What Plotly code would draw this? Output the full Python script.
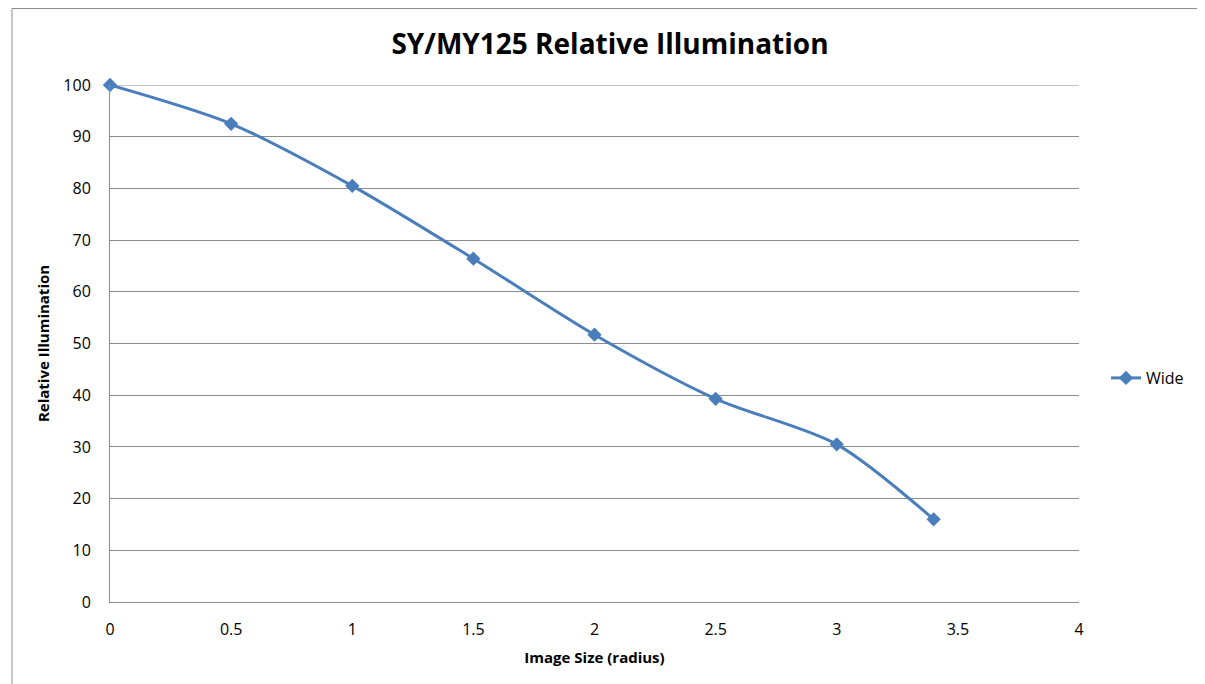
import plotly.graph_objects as go

x_vals = [0, 0.5, 1, 1.5, 2, 2.5, 3, 3.4]
y_vals = [100, 92.5, 80.5, 66.4, 51.7, 39.3, 30.5, 16.0]
series_name = "Wide"
title_text = "SY/MY125 Relative Illumination"
x_title = "Image Size (radius)"
y_title = "Relative Illumination"
x_ticks = [0, 0.5, 1, 1.5, 2, 2.5, 3, 3.5, 4]
x_ticktext = ["0", "0.5", "1", "1.5", "2", "2.5", "3", "3.5", "4"]
y_ticks = [0, 10, 20, 30, 40, 50, 60, 70, 80, 90, 100]

# page body has an 8px margin, so figure coords = screen coords - 8
W, H = 1197, 676
L, R, T, B = 102, 1071, 77, 594
FONT = "Open Sans"
color = "#4a7ebb"
grid = "#8c8c8c"

fig = go.Figure()
fig.add_trace(go.Scatter(
    x=x_vals, y=y_vals, name=series_name, mode="lines+markers",
    line=dict(color=color, width=3, shape="spline", smoothing=0.8),
    marker=dict(symbol="diamond", size=11, color=color),
    cliponaxis=False,
))

pw, ph = R - L, B - T
# outer chart border
fig.add_shape(type="rect", xref="paper", yref="paper",
              x0=(4 - L) / pw, x1=(1230 - L) / pw,
              y0=(B - 720) / ph, y1=(B - 0.5) / ph,
              line=dict(color=grid, width=1), layer="below")
# top gridline at 100 (plotly drops the edge gridline)
fig.add_shape(type="line", xref="paper", yref="y", x0=0, x1=1, y0=100, y1=100,
              line=dict(color=grid, width=1), layer="below")

fig.update_layout(
    width=W, height=H,
    margin=dict(l=L, r=W - R, t=T, b=H - B),
    paper_bgcolor="white", plot_bgcolor="white",
    font=dict(family=FONT, size=16, color="#000"),
    title=dict(text="<b>" + title_text + "</b>", x=602 / W, xanchor="center",
               y=1 - 36 / H, yanchor="middle", font=dict(size=28, family=FONT)),
    showlegend=True,
    legend=dict(x=(1098 - L) / pw, xanchor="left", y=(B - 370) / ph, yanchor="middle",
                font=dict(size=16), bgcolor="rgba(0,0,0,0)"),
    xaxis=dict(range=[0, 4], tickvals=x_ticks, ticktext=x_ticktext,
               showgrid=False, zeroline=False, showline=True, linecolor=grid,
               linewidth=1, ticks="", ticklabelstandoff=13,
               tickfont=dict(size=16),
               title=dict(text="<b>" + x_title + "</b>", font=dict(size=15), standoff=13)),
    yaxis=dict(range=[0, 100], tickvals=y_ticks,
               showgrid=True, gridcolor=grid, gridwidth=1,
               zeroline=False, showline=True, linecolor=grid, linewidth=1,
               ticks="", ticklabelstandoff=15, tickfont=dict(size=16),
               title=dict(text="<b>" + y_title + "</b>", font=dict(size=15), standoff=10)),
)

fig.write_html("out.html")
